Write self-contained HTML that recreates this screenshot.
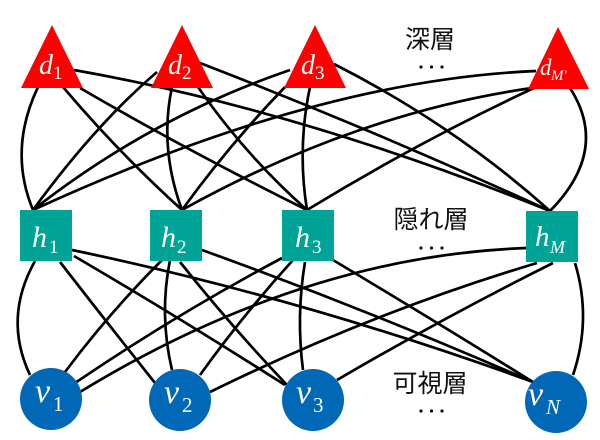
<!DOCTYPE html>
<html>
<head>
<meta charset="utf-8">
<style>
  html, body { margin: 0; padding: 0; background: #ffffff; }
  svg { display: block; }
  .e { fill: none; stroke: #000; stroke-width: 2.7; }
  .m { font-family: "Liberation Serif", serif; fill: #fff; }
  .i { font-style: italic; }
  .j { font-family: "Liberation Sans", "Noto Sans CJK JP", sans-serif; font-size: 25px; fill: #111; }
</style>
</head>
<body>
<svg width="600" height="440" viewBox="0 0 600 440" xmlns="http://www.w3.org/2000/svg">
  <rect width="600" height="440" fill="#fff"/>

  <!-- edges: deep layer to hidden layer -->
  <path class="e" d="M38,87 Q8,150 33,210"/>
  <path class="e" d="M63,87 Q118,152 182,210"/>
  <path class="e" d="M80,88 Q190,152 307,210"/>
  <path class="e" d="M74,70 Q300,110 550,211"/>
  <path class="e" d="M157,72 Q95,125 33,210"/>
  <path class="e" d="M172,87 Q159,148 182,210"/>
  <path class="e" d="M198,87 Q245,155 307,210"/>
  <path class="e" d="M200,63 Q376,131 550,211"/>
  <path class="e" d="M290,70 Q150,118 33,210"/>
  <path class="e" d="M285,87 Q229,145 182,210"/>
  <path class="e" d="M310,87 Q297,148 307,210"/>
  <path class="e" d="M334,64 Q454,125 550,211"/>
  <path class="e" d="M536,71 Q316,80 33,210"/>
  <path class="e" d="M532,88 Q357,113 182,210"/>
  <path class="e" d="M534,88 Q420,141 307,210"/>
  <path class="e" d="M570,88 Q610,150 550,211"/>

  <!-- edges: hidden layer to visible layer -->
  <path class="e" d="M35,261 Q3,318 30,375"/>
  <path class="e" d="M60,262 Q105,320 155,383"/>
  <path class="e" d="M74,256 Q175,315 285,385"/>
  <path class="e" d="M72,250 Q302,298 533,382"/>
  <path class="e" d="M162,260 Q110,312 65,372"/>
  <path class="e" d="M170,260 Q159,315 172,370"/>
  <path class="e" d="M180,262 Q230,325 287,385"/>
  <path class="e" d="M202,250 Q368,310 533,382"/>
  <path class="e" d="M282,258 Q175,315 75,383"/>
  <path class="e" d="M293,260 Q243,315 200,375"/>
  <path class="e" d="M305,262 Q296,316 303,370"/>
  <path class="e" d="M333,260 Q430,318 533,382"/>
  <path class="e" d="M527,248 Q303,256 80,392"/>
  <path class="e" d="M537,263 Q373,312 210,392"/>
  <path class="e" d="M553,263 Q443,318 337,380"/>
  <path class="e" d="M575,263 Q592,319 573,375"/>

  <!-- deep layer triangles -->
  <polygon points="52,25 21,88 83,88" fill="#ff0000"/>
  <polygon points="182,25 151,88 213,88" fill="#ff0000"/>
  <polygon points="315,25 284,88 346,88" fill="#ff0000"/>
  <polygon points="558,27 528,89 589,89" fill="#ff0000"/>

  <!-- hidden layer squares -->
  <rect x="20" y="210" width="52" height="51" fill="#00a497"/>
  <rect x="150" y="210" width="52" height="51" fill="#00a497"/>
  <rect x="282" y="210" width="52" height="51" fill="#00a497"/>
  <rect x="526" y="211" width="52" height="51" fill="#00a497"/>

  <!-- visible layer circles -->
  <circle cx="51" cy="399" r="31" fill="#0068b7"/>
  <circle cx="180" cy="400" r="31" fill="#0068b7"/>
  <circle cx="313" cy="400" r="31" fill="#0068b7"/>
  <circle cx="556" cy="402" r="31" fill="#0068b7"/>

  <!-- d labels -->
  <text class="m i" x="39" y="74" font-size="28">d</text>
  <text class="m" x="53" y="79" font-size="19">1</text>
  <text class="m i" x="168" y="74" font-size="28">d</text>
  <text class="m" x="182" y="79" font-size="19">2</text>
  <text class="m i" x="301" y="74" font-size="28">d</text>
  <text class="m" x="315" y="79" font-size="19">3</text>
  <text class="m i" x="540" y="75" font-size="23">d</text>
  <text class="m i" x="551" y="80" font-size="15">M′</text>

  <!-- h labels -->
  <text class="m i" x="32" y="247" font-size="30">h</text>
  <text class="m" x="49" y="253" font-size="19">1</text>
  <text class="m i" x="161" y="247" font-size="30">h</text>
  <text class="m" x="177" y="253" font-size="19">2</text>
  <text class="m i" x="295" y="247" font-size="30">h</text>
  <text class="m" x="312" y="253" font-size="19">3</text>
  <text class="m i" x="535" y="246" font-size="29">h</text>
  <text class="m i" x="550" y="253" font-size="18">M</text>

  <!-- v labels -->
  <text class="m i" x="35" y="402" font-size="34">v</text>
  <text class="m" x="53" y="411" font-size="21">1</text>
  <text class="m i" x="164" y="403" font-size="34">v</text>
  <text class="m" x="182" y="412" font-size="21">2</text>
  <text class="m i" x="296" y="403" font-size="34">v</text>
  <text class="m" x="313" y="412" font-size="21">3</text>
  <text class="m i" x="528" y="405" font-size="34">v</text>
  <text class="m i" x="546" y="414" font-size="21">N</text>

  <!-- layer labels -->
  <text class="j" x="430" y="48" text-anchor="middle">深層</text>
  <text class="j" x="431" y="228" text-anchor="middle">隠れ層</text>
  <text class="j" x="430" y="392" text-anchor="middle">可視層</text>

  <!-- ellipsis dots -->
  <g fill="#111">
    <circle cx="421" cy="67" r="1.6"/><circle cx="431.5" cy="67" r="1.6"/><circle cx="442" cy="67" r="1.6"/>
    <circle cx="421" cy="248" r="1.6"/><circle cx="431.5" cy="248" r="1.6"/><circle cx="442" cy="248" r="1.6"/>
    <circle cx="421" cy="411" r="1.6"/><circle cx="431.5" cy="411" r="1.6"/><circle cx="442" cy="411" r="1.6"/>
  </g>
</svg>
</body>
</html>
